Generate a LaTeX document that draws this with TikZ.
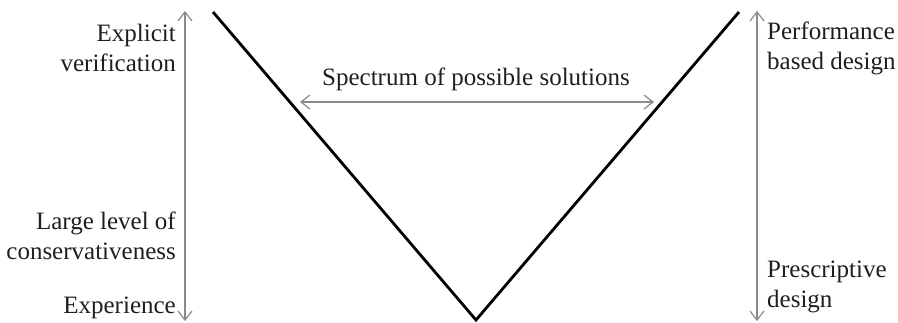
\documentclass[tikz,border=0pt]{standalone}
\usepackage{fontspec}
\setmainfont{Liberation Serif}
\usetikzlibrary{arrows.meta}
\definecolor{axisgray}{HTML}{8A8A8A}
\begin{document}
\begin{tikzpicture}[x=1pt,y=-1pt,
  vline/.style={line width=2.8pt,black,line join=miter},
  grayarrow/.style={axisgray,line width=1.3pt,{Straight Barb[length=9pt,width=14pt,line width=1.2pt]}-{Straight Barb[length=9pt,width=14pt,line width=1.2pt]}},
  lbl/.style={font=\fontsize{25}{30}\selectfont,inner sep=0pt,text=black!88}]
\useasboundingbox (0,0) rectangle (898,323);
% V shape
\coordinate (vl) at (213,12);
\coordinate (vb) at (476,320);
\coordinate (vr) at (739,12);
\draw[vline] (vl) -- (vb) -- (vr);
% axes
\coordinate (la) at (185,11);
\coordinate (lb) at (185,321);
\coordinate (ra) at (757,11);
\coordinate (rb) at (757,321);
\draw[grayarrow] (la) -- (lb);
\draw[grayarrow] (ra) -- (rb);
% spectrum arrow
\coordinate (sa) at (300,102);
\coordinate (sb) at (654,102);
\draw[grayarrow] (sa) -- (sb);
\node[lbl] (spec) at (476,79) {Spectrum of possible solutions};
% left labels
\node[lbl,align=right,anchor=east] (expl) at (176,48) {Explicit\\verification};
\node[lbl,align=right,anchor=east] (cons) at (176,236) {Large level of\\conservativeness};
\node[lbl,anchor=east] (exp) at (176,308) {Experience};
% right labels
\node[lbl,align=left,anchor=west] (perf) at (767,48) {Performance\\based design};
\node[lbl,align=left,anchor=west] (pres) at (767,287) {Prescriptive\\design};
\end{tikzpicture}
\end{document}
